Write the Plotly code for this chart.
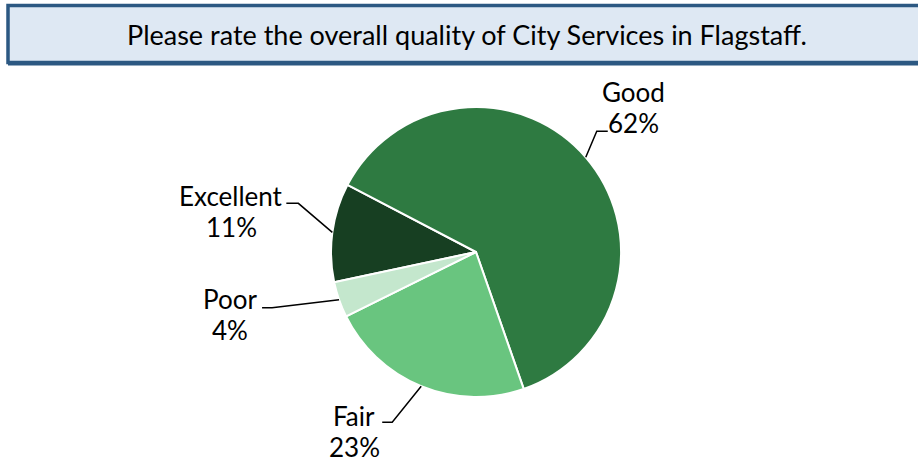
import math
import plotly.graph_objects as go

# ---- data ----
labels = ["Excellent", "Good", "Fair", "Poor"]
values = [11, 62, 23, 4]
colors = ["#173F22", "#2E7A41", "#69C57F", "#C4E7CD"]
title_text = "Please rate the overall quality of City Services in Flagstaff."

# ---- layout constants (pixels) ----
W, H = 918, 464
CX, CY, R = 476, 252, 145
ROTATION = 258  # start angle of first slice, clockwise from 12 o'clock
LINE_GAP = 31   # spacing between label line and percent line

# per-label leader geometry (offsets from slice edge point): elbow, end, text centre
leader = {
    "Excellent": ((-34, -29), (-46, -29), (-101, -21)),
    "Good": ((11, -26), (22, -26), (48, -50)),
    "Fair": ((-29, 36), (-39, 36), (-67, 45)),
    "Poor": ((-67, 8), (-77, 8), (-109, 15)),
}


def px(x):
    return x / W


def py(y):
    return 1 - y / H


fig = go.Figure()
fig.add_trace(go.Pie(
    labels=labels, values=values, sort=False, direction="clockwise",
    rotation=ROTATION, textinfo="none", hoverinfo="label+percent",
    marker=dict(colors=colors, line=dict(color="white", width=2)),
    domain=dict(x=[px(CX - R), px(CX + R)], y=[py(CY + R), py(CY - R)]),
    showlegend=False,
))

shapes = []
annotations = []
total = sum(values)
ang = ROTATION
lab_font = dict(family="Lato", size=26, color="black")
for lab, v in zip(labels, values):
    span = 360 * v / total
    mid = math.radians(ang + span / 2)
    ang += span
    ex = CX + R * math.sin(mid)
    ey = CY - R * math.cos(mid)
    (e1x, e1y), (e2x, e2y), (tx, ty) = leader[lab]
    path = f"M {px(ex)} {py(ey)} L {px(ex + e1x)} {py(ey + e1y)} L {px(ex + e2x)} {py(ey + e2y)}"
    shapes.append(dict(type="path", xref="paper", yref="paper", path=path,
                       line=dict(color="black", width=1.5)))
    for txt, dy in ((lab, -LINE_GAP / 2), (f"{round(100 * v / total)}%", LINE_GAP / 2)):
        annotations.append(dict(
            x=px(ex + tx), y=py(ey + ty + dy), xref="paper", yref="paper",
            text=txt, showarrow=False, xanchor="center", yanchor="middle",
            font=lab_font,
        ))

# title box with slight bottom shadow
shapes.insert(0, dict(type="line", xref="paper", yref="paper",
                      x0=px(8), x1=px(930), y0=py(64.5), y1=py(64.5),
                      line=dict(color="#2C5882", width=2), layer="below"))
shapes.insert(0, dict(type="rect", xref="paper", yref="paper",
                      x0=px(8), x1=px(930), y0=py(62.5), y1=py(5.5),
                      fillcolor="#DEE8F3", line=dict(color="#2C5882", width=3.5),
                      layer="below"))
annotations.append(dict(
    x=px(467), y=py(34), xref="paper", yref="paper", text=title_text,
    showarrow=False, xanchor="center", yanchor="middle",
    font=dict(family="Lato", size=27, color="black"),
))

fig.update_layout(
    width=W, height=H, margin=dict(l=0, r=0, t=0, b=0),
    paper_bgcolor="white", plot_bgcolor="white",
    shapes=shapes, annotations=annotations,
)

fig.write_html("out.html", config={"displayModeBar": False},
               post_script="document.body.style.margin='0';")
